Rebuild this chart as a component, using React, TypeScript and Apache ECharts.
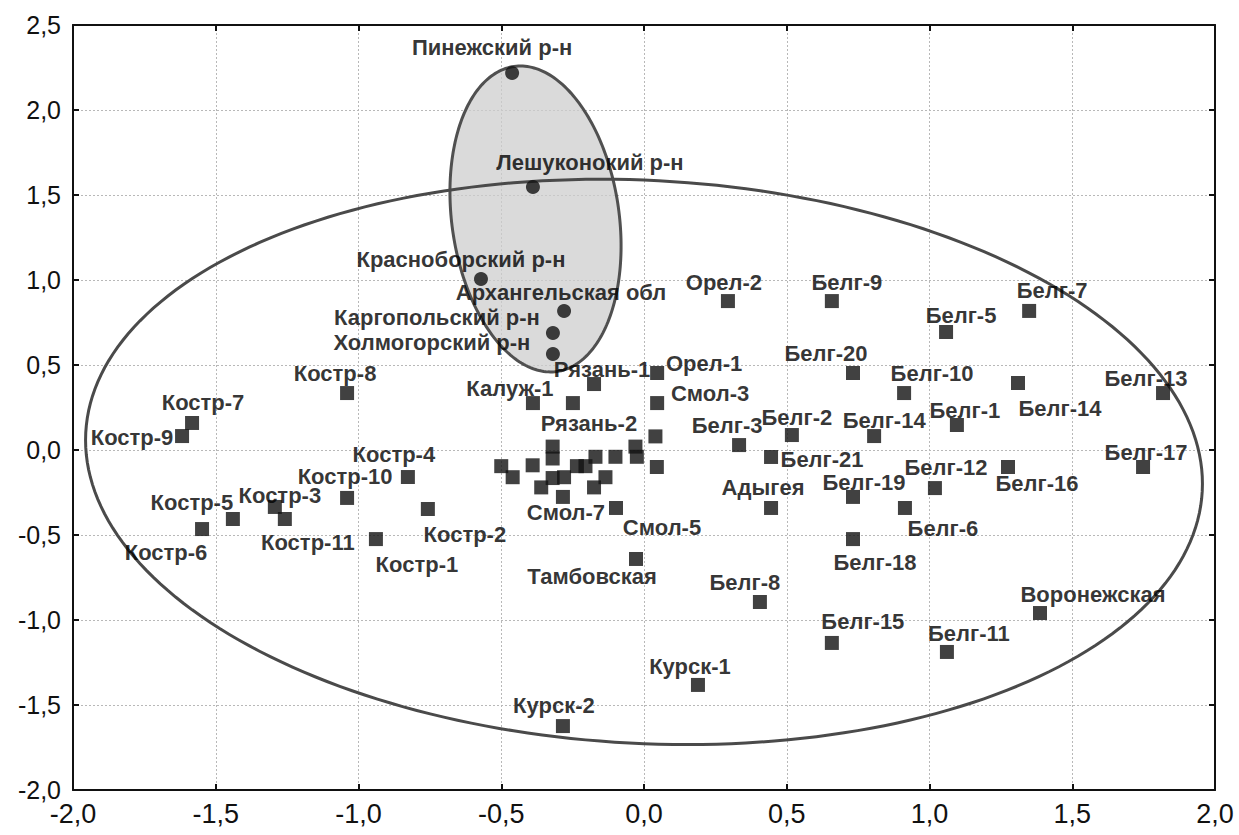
import React, { useEffect, useRef } from "react";
import * as echarts from "echarts";

// ---- Data ----
const archNames = [
  "Пинежский р-н",
  "Лешуконокий р-н",
  "Красноборский р-н",
  "Архангельская обл",
  "Каргопольский р-н",
  "Холмогорский р-н",
];
const archX = [-0.462, -0.389, -0.571, -0.28, -0.319, -0.319];
const archY = [2.218, 1.547, 1.006, 0.818, 0.688, 0.565];

const siteNames = [
  "Орел-1", "Рязань-1", "Калуж-1", "Рязань-2", "Смол-3", "Смол-7", "Смол-5", "Тамбовская",
  "Костр-8", "Костр-7", "Костр-9", "Костр-4", "Костр-10", "Костр-2", "Костр-3", "Костр-11",
  "Костр-5", "Костр-6", "Костр-1",
  "Орел-2", "Белг-9", "Белг-5", "Белг-7", "Белг-20", "Белг-10", "Белг-14", "Белг-13",
  "Белг-1", "Белг-14", "Белг-2", "Белг-3", "Белг-21", "Белг-16", "Белг-17", "Белг-12",
  "Белг-19", "Адыгея", "Белг-6", "Белг-18", "Белг-8", "Воронежская", "Белг-15", "Белг-11",
  "Курск-1", "Курск-2",
];
const siteX = [
  0.046, -0.175, -0.389, -0.249, 0.046, -0.284, -0.098, -0.028,
  -1.04, -1.583, -1.618, -0.827, -1.04, -0.757, -1.293, -1.258,
  -1.44, -1.548, -0.939,
  0.294, 0.658, 1.058, 1.349, 0.732, 0.911, 1.31, 1.818,
  1.096, 0.806, 0.518, 0.333, 0.445, 1.275, 1.748, 1.019,
  0.732, 0.445, 0.914, 0.732, 0.406, 1.387, 0.658, 1.061,
  0.189, -0.284,
];
const siteY = [
  0.453, 0.388, 0.276, 0.276, 0.276, -0.276, -0.341, -0.641,
  0.335, 0.159, 0.082, -0.159, -0.282, -0.347, -0.335, -0.406,
  -0.406, -0.465, -0.524,
  0.876, 0.876, 0.694, 0.818, 0.453, 0.335, 0.394, 0.335,
  0.147, 0.082, 0.088, 0.029, -0.041, -0.1, -0.1, -0.224,
  -0.276, -0.341, -0.341, -0.524, -0.894, -0.959, -1.135, -1.188,
  -1.382, -1.624,
];

// unlabeled squares in the central cluster
const clusterX = [
  -0.32, -0.32, -0.03, -0.025, 0.04, -0.5, -0.46, -0.39, -0.32,
  -0.28, -0.235, -0.205, -0.17, -0.1, -0.36, -0.175, -0.135, 0.045,
];
const clusterY = [
  0.02, -0.05, 0.02, -0.04, 0.08, -0.095, -0.16, -0.09, -0.165,
  -0.16, -0.095, -0.095, -0.04, -0.04, -0.22, -0.22, -0.16, -0.1,
];

const xTickValues = [-2, -1.5, -1, -0.5, 0, 0.5, 1, 1.5, 2];
const yTickValues = [-2, -1.5, -1, -0.5, 0, 0.5, 1, 1.5, 2, 2.5];

// ellipses: [centerX, centerY, semiAxisX, semiAxisY, rotationDeg]
const bigEllipse = [0.0, -0.07, 1.958, 1.656, 3];
const smallEllipse = [-0.38, 1.359, 0.293, 0.906, -8];

// ---- Layout: label offsets (px) relative to marker centre ----
const archLabelOffsets = [
  [-20, -25], [57, -25], [-20, -19], [-3, -18], [-116, -16], [-121, -11],
];
const siteLabelOffsets = [
  [47, -9], [8, -15], [-23, -15], [16, 20], [53, -10], [3, 16], [46, 20], [-44, 18],
  [-12, -20], [11, -20], [-50, 1], [-14, -23], [-2, -21], [37, 26], [5, -11], [23, 23],
  [-41, -17], [-36, 23], [41, 25],
  [-4, -19], [15, -19], [15, -17], [23, -20], [-27, -19], [28, -20], [42, 25], [-17, -15],
  [8, -15], [10, -16], [5, -18], [-12, -20], [51, 3], [29, 16], [3, -15], [11, -21],
  [11, -14], [-8, -20], [38, 21], [22, 23], [-15, -19], [53, -19], [31, -21], [22, -18],
  [-8, -18], [-9, -21],
];

const FONT = "'Liberation Sans', Arial, sans-serif";
const fmt = (v: number) => v.toFixed(1).replace(".", ",");

function makeEllipseRenderer(style: any) {
  return (params: any, api: any) => {
    const c = api.coord([api.value(0), api.value(1)]);
    const sx = api.size([api.value(2), 0])[0];
    const sy = api.size([0, api.value(3)])[1];
    const th = (api.value(4) * Math.PI) / 180;
    const pts: number[][] = [];
    const n = 240;
    for (let i = 0; i < n; i++) {
      const t = (i / n) * 2 * Math.PI;
      const x0 = sx * Math.cos(t);
      const y0 = sy * Math.sin(t);
      pts.push([
        c[0] + x0 * Math.cos(th) - y0 * Math.sin(th),
        c[1] + x0 * Math.sin(th) + y0 * Math.cos(th),
      ]);
    }
    return { type: "polygon", shape: { points: pts }, style };
  };
}

export default function App() {
  const ref = useRef<HTMLDivElement>(null);
  useEffect(() => {
    document.body.style.margin = "0";
    const chart = echarts.init(ref.current!, null, { renderer: "svg" });
    const labelBase = {
      show: true,
      position: "inside",
      formatter: "{b}",
      color: "#000",
      textBorderWidth: 0,
      fontSize: 22,
      fontWeight: "bold",
      fontFamily: FONT,
      align: "center",
      verticalAlign: "middle",
    };
    const gridLine = { show: true, lineStyle: { color: "#b8b8b8", type: [2, 2], width: 1 } };
    const axisLine = { show: true, onZero: false, lineStyle: { color: "#111", width: 2 } };
    const tick = { show: true, inside: true, length: 6, lineStyle: { color: "#111", width: 2 } };
    const tickLabel = { color: "#111", fontFamily: FONT, formatter: fmt };

    const option: any = {
      animation: false,
      backgroundColor: "#fff",
      grid: { left: 73, right: 24, top: 25, bottom: 45, containLabel: false },
      xAxis: [
        {
          type: "value", min: xTickValues[0], max: xTickValues[xTickValues.length - 1], interval: 0.5,
          axisLine, axisTick: tick, splitLine: gridLine,
          axisLabel: { ...tickLabel, fontSize: 27, margin: 10 },
        },
        {
          type: "value", position: "top", min: -2, max: 2, interval: 0.5,
          axisLine, axisTick: tick, splitLine: { show: false }, axisLabel: { show: false },
        },
      ],
      yAxis: [
        {
          type: "value", min: yTickValues[0], max: yTickValues[yTickValues.length - 1], interval: 0.5,
          axisLine, axisTick: tick, splitLine: gridLine,
          axisLabel: { ...tickLabel, fontSize: 25, margin: 12 },
        },
        {
          type: "value", position: "right", min: -2, max: 2.5, interval: 0.5,
          axisLine, axisTick: tick, splitLine: { show: false }, axisLabel: { show: false },
        },
      ],
      series: [
        {
          type: "custom", z: 1, silent: true,
          renderItem: makeEllipseRenderer({ fill: "rgba(205,205,205,0.75)", stroke: "#505050", lineWidth: 3 }),
          data: [smallEllipse],
        },
        {
          type: "custom", z: 2, silent: true,
          renderItem: makeEllipseRenderer({ fill: "none", stroke: "#4a4a4a", lineWidth: 3 }),
          data: [bigEllipse],
        },
        {
          type: "scatter", z: 3, symbol: "rect", symbolSize: 14,
          itemStyle: { color: "#111" },
          data: clusterX.map((x, i) => [x, clusterY[i]]),
        },
        {
          type: "scatter", z: 4, symbol: "rect", symbolSize: 14,
          itemStyle: { color: "#111" },
          label: labelBase,
          data: siteNames.map((n, i) => ({
            name: n,
            value: [siteX[i], siteY[i]],
            label: { offset: siteLabelOffsets[i] },
          })),
        },
        {
          type: "scatter", z: 4, symbol: "circle", symbolSize: 14,
          itemStyle: { color: "#111" },
          label: labelBase,
          data: archNames.map((n, i) => ({
            name: n,
            value: [archX[i], archY[i]],
            label: { offset: archLabelOffsets[i] },
          })),
        },
      ],
    };
    chart.setOption(option);
    return () => chart.dispose();
  }, []);
  return <div ref={ref} style={{ width: 1239, height: 835 }} />;
}
